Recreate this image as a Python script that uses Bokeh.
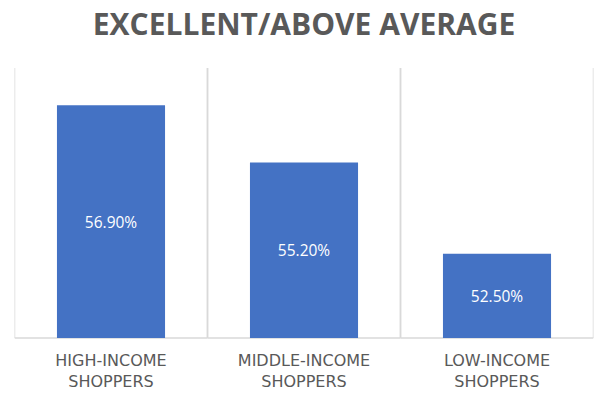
from bokeh.plotting import figure
from bokeh.models import ColumnDataSource, FactorRange, Range1d
from bokeh.transform import dodge
from bokeh.core.properties import value
from bokeh.embed import file_html
from bokeh.resources import INLINE

title_text = "EXCELLENT/ABOVE AVERAGE"
categories = ["HIGH-INCOME SHOPPERS", "MIDDLE-INCOME SHOPPERS", "LOW-INCOME SHOPPERS"]
tick_line1 = ["HIGH-INCOME", "MIDDLE-INCOME", "LOW-INCOME"]
tick_line2 = ["SHOPPERS", "SHOPPERS", "SHOPPERS"]
values = [56.9, 55.2, 52.5]
value_labels = ["56.90%", "55.20%", "52.50%"]
y_start = 50
y_end = 58
y_view_start = 48.3  # room below the baseline for the category labels
y_view_end = 60.0    # room above the plot area for the title

src = ColumnDataSource(dict(
    cat=categories,
    val=values,
    mid=[(y_start + v) / 2 for v in values],
    lab=value_labels,
    l1=tick_line1,
    l2=tick_line2,
    y0=[y_start] * len(categories),
    y1=[y_end] * len(categories),
))

p = figure(width=600, height=395, output_backend="svg", toolbar_location=None,
           x_range=FactorRange(factors=categories, range_padding=0),
           y_range=Range1d(y_view_start, y_view_end),
           min_border_left=14, min_border_right=7, min_border_top=0, min_border_bottom=0)
p.outline_line_color = None
p.background_fill_color = "white"
p.border_fill_color = "white"

grid_color = "#d9d9d9"
left = dodge("cat", -0.5, range=p.x_range)
right = dodge("cat", 0.5, range=p.x_range)
p.segment(x0=left, x1=left, y0="y0", y1="y1", source=src, line_color=grid_color, line_width=1.5)
p.segment(x0=right, x1=right, y0="y0", y1="y1", source=src, line_color=grid_color, line_width=1.5)
# baseline
p.segment(x0=left, x1=right, y0="y0", y1="y0", source=src, line_color=grid_color, line_width=1.5)

p.vbar(x="cat", top="val", bottom=y_start, width=0.56, source=src,
       fill_color="#4472C4", line_color=None)

p.text(x="cat", y="mid", text="lab", source=src, text_align="center", text_baseline="middle",
       text_color="white", text_font=value("Open Sans"), text_font_size="15.5px")

label_style = dict(text_align="center", text_baseline="middle", text_color="#595959",
                   text_font=value("DejaVu Sans"), text_font_size="16px")
p.text(x="cat", y="y0", text="l1", source=src, y_offset=22, **label_style)
p.text(x="cat", y="y0", text="l2", source=src, y_offset=43, **label_style)

# chart title, centred over the middle category, above the plot area
p.text(x=[categories[1]], y=[y_end], text=[title_text], y_offset=-45,
       text_align="center", text_baseline="middle", text_color="#595959",
       text_font=value("Open Sans"), text_font_style="bold", text_font_size="30px")

p.xaxis.visible = False
p.yaxis.visible = False
p.xgrid.visible = False
p.ygrid.visible = False

open("out.html", "w").write(file_html(p, INLINE))
